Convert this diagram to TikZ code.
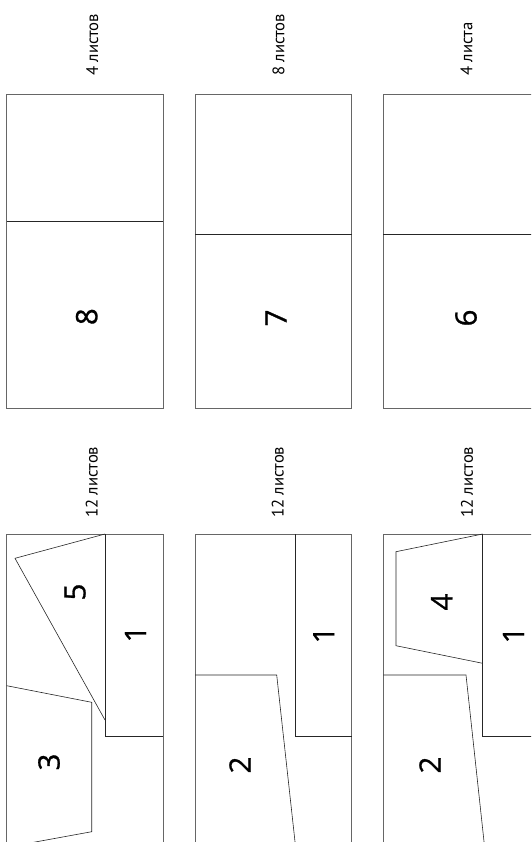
\documentclass[tikz,border=0pt]{standalone}
\usepackage{fontspec}
\setmainfont{PT Sans}
\newfontfamily\digitfont[FakeBold=0.9]{Open Sans}
\begin{document}
\begin{tikzpicture}[x=1pt, y=-1pt, line join=miter,
    frame/.style={draw=black!60, line width=0.9pt},
    cut/.style={draw=black!85, line width=0.6pt},
    num/.style={font=\digitfont\fontsize{29.5}{34}\selectfont, rotate=90, inner sep=0pt},
    qty/.style={font=\fontsize{16.7}{19}\selectfont, rotate=90, anchor=west, inner sep=0pt}]
  \useasboundingbox (0,0) rectangle (531,842);
  \clip (0,0) rectangle (531,842);
  % верхний ряд: листы, разрезанные пополам
  \foreach \x/\d in {6.7/221.7, 195/234.3, 383.3/234.3} {
    \draw[frame] (\x,94.3) rectangle ++(156.6,314);
    \draw[cut] (\x,\d) -- ++(156.6,0);
  }
  \node[num] (n8) at (86.7,316.7) {8};
  \node[num] (n7) at (276,318) {7};
  \node[num] (n6) at (466,318) {6};
  \node[qty] (q8) at (92.3,76) {4 листов};
  \node[qty] (q7) at (278.5,76) {8 листов};
  \node[qty] (q6) at (466.5,76) {4 листа};
  % нижний ряд: листы и деталь 1 в каждом
  \foreach \x/\r in {6.7/105, 195/295, 383.3/482.7} {
    \draw[frame] (\x,534) rectangle ++(156.6,330);
    \draw[cut] (\r,534) -- (\r,736.7) -- (\x+156.6,736.7);
  }
  % детали 5 и 3
  \draw[cut] (105,534) -- (15,558.3) -- (105,720);
  \draw[cut] (6.7,685.7) -- (91.7,702.3) -- (91.7,831.7) -- (6.7,847.2);
  % деталь 2, дважды
  \draw[cut] (195,675) -- (276.7,675) -- (296,850.7);
  \draw[cut] (383.3,675) -- (466,675) -- (485,850.7);
  % деталь 4
  \draw[cut] (482.7,534) -- (396,551.7) -- (396,645.7) -- (482.7,663.3);
  \node[num] (a1) at (135.5,634) {1};
  \node[num] (b1) at (323.7,635) {1};
  \node[num] (c1) at (513.5,635) {1};
  \node[num] (a5) at (75,592) {5};
  \node[num] (a3) at (49,762) {3};
  \node[num] (b2) at (240,765) {2};
  \node[num] (c2) at (430,765) {2};
  \node[num] (c4) at (441.7,602) {4};
  \node[qty] (qa) at (91.7,518) {12 листов};
  \node[qty] (qb) at (277.7,518) {12 листов};
  \node[qty] (qc) at (467,518) {12 листов};
\end{tikzpicture}
\end{document}
